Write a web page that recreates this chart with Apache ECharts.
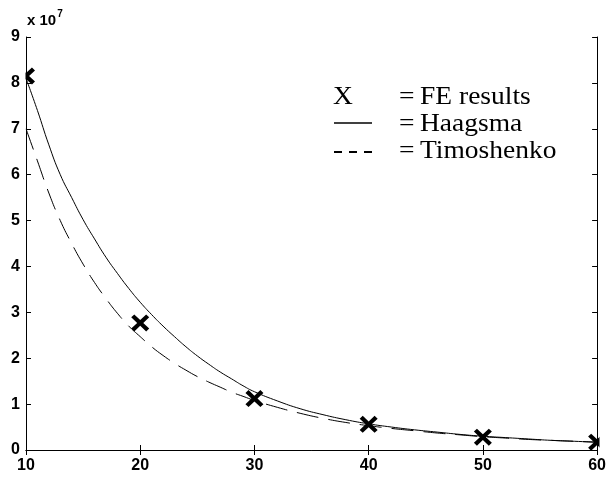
<!DOCTYPE html>
<html>
<head>
<meta charset="utf-8">
<script src="https://cdn.jsdelivr.net/npm/echarts@6/dist/echarts.min.js"></script>
<style>
html,body{margin:0;padding:0;background:#fff;}
#chart{width:609px;height:481px;}
</style>
</head>
<body>
<div id="chart"></div>
<script>
// Values in units of 1e7
const xTicks = [10, 20, 30, 40, 50, 60];
const yTicks = [0, 1, 2, 3, 4, 5, 6, 7, 8, 9];
const feX = [10, 20, 30, 40, 50, 60];
const feY = [8.15, 2.77, 1.12, 0.56, 0.28, 0.17];
const haagsmaX = [10,11,12,13,14,15,16,17,18,19,20,21,22,23,24,25,26,27,28,29,30,32,34,36,38,40,42,44,46,48,50,52,54,56,58,60];
const haagsmaY = [8.1,7.4,6.65,6.0,5.5,5.02,4.6,4.2,3.85,3.52,3.22,2.95,2.7,2.47,2.25,2.05,1.87,1.7,1.55,1.4,1.27,1.07,0.9,0.77,0.66,0.57,0.5,0.44,0.39,0.34,0.3,0.27,0.24,0.21,0.19,0.17];
const timoX = [10,11,12,13,14,15,16,17,18,19,20,21,22,23,24,25,26,27,28,29,30,32,34,36,38,40,42,44,46,48,50,52,54,56,58,60];
const timoY = [7.0,6.3,5.6,5.0,4.5,4.05,3.65,3.3,2.98,2.7,2.47,2.25,2.06,1.89,1.74,1.6,1.48,1.37,1.26,1.17,1.08,0.93,0.8,0.69,0.6,0.53,0.47,0.42,0.37,0.33,0.29,0.26,0.23,0.21,0.19,0.17];
const legendItems = ['FE results', 'Haagsma', 'Timoshenko'];
const expLabel = 'x 10';
const expSup = '7';

const chart = echarts.init(document.getElementById('chart'), null, {renderer: 'canvas'});
const toPairs = (xs, ys) => xs.map((x, i) => [x, ys[i]]);
const xSym = 'path://M0,1.7 L1.7,0 L5,3.3 L8.3,0 L10,1.7 L6.7,5 L10,8.3 L8.3,10 L5,6.7 L1.7,10 L0,8.3 L3.3,5 Z';
const labelFont = {fontFamily: 'Liberation Sans', fontSize: 16, fontWeight: 'bold', color: '#000'};
const legFont = '25px "Liberation Serif"';
const axisCommon = {
  z: 10,
  axisLine: {show: true, lineStyle: {color: '#000', width: 1}},
  axisTick: {show: true, inside: true, length: 5, lineStyle: {color: '#000'}},
  splitLine: {show: false}
};
const legText = (text, x, y) => ({type: 'text', x: x, y: y, z: 20, scaleX: 1.1,
  style: {text: text, font: legFont, fill: '#000', verticalAlign: 'middle'}});

chart.setOption({
  animation: false,
  backgroundColor: '#fff',
  grid: {left: 26, right: 10, top: 37, bottom: 31, containLabel: false},
  xAxis: [
    Object.assign({type: 'value', min: 10, max: 60, interval: 10, position: 'bottom',
      axisLabel: Object.assign({margin: 8, formatter: v => xTicks.includes(v) ? String(v) : ''}, labelFont)}, axisCommon),
    Object.assign({type: 'value', min: 10, max: 60, interval: 10, position: 'top', axisLabel: {show: false}}, axisCommon)
  ],
  yAxis: [
    Object.assign({type: 'value', min: 0, max: 9, interval: 1, position: 'left',
      axisLabel: Object.assign({margin: 6, formatter: v => yTicks.includes(v) ? String(v) : ''}, labelFont)}, axisCommon),
    Object.assign({type: 'value', min: 0, max: 9, interval: 1, position: 'right', axisLabel: {show: false}}, axisCommon)
  ],
  series: [
    {
      name: 'Haagsma', type: 'line', smooth: true, showSymbol: false,
      data: toPairs(haagsmaX, haagsmaY),
      lineStyle: {color: '#000', width: 1}
    },
    {
      name: 'Timoshenko', type: 'line', smooth: true, showSymbol: false,
      data: toPairs(timoX, timoY),
      lineStyle: {color: '#000', width: 1, type: [22, 10]}
    },
    {
      name: 'FE results', type: 'scatter', clip: true,
      data: toPairs(feX, feY),
      symbol: xSym, symbolSize: [18, 17],
      itemStyle: {color: '#000', opacity: 1}, z: 3
    }
  ],
  graphic: [
    // white masks outside plot area (clip markers at the frame)
    {type: 'rect', z: 5, shape: {x: 0, y: 0, width: 25.5, height: 481}, style: {fill: '#fff'}},
    {type: 'rect', z: 5, shape: {x: 599.5, y: 0, width: 10, height: 481}, style: {fill: '#fff'}},
    {type: 'rect', z: 5, shape: {x: 0, y: 450.5, width: 609, height: 31}, style: {fill: '#fff'}},
    {type: 'text', left: 27, top: 9, z: 20, style: {
      text: '{a|' + expLabel + '}{b|' + expSup + '}',
      rich: {a: {fontFamily: 'Liberation Sans', fontSize: 15, fontWeight: 'bold', fill: '#000', verticalAlign: 'bottom'},
             b: {fontFamily: 'Liberation Sans', fontSize: 10, fontWeight: 'bold', fill: '#000', verticalAlign: 'top', padding: [0,0,9,1]}}
    }},
    legText('X', 333, 97),
    legText('=', 399, 97),
    legText(legendItems[0], 420, 97),
    {type: 'line', z: 20, shape: {x1: 334, y1: 123, x2: 372, y2: 123}, style: {stroke: '#000', lineWidth: 1.3}},
    legText('=', 399, 124),
    legText(legendItems[1], 420, 124),
    {type: 'line', z: 20, shape: {x1: 334, y1: 152, x2: 372, y2: 152}, style: {stroke: '#000', lineWidth: 2, lineDash: [8, 7]}},
    legText('=', 399, 151),
    legText(legendItems[2], 420, 151)
  ]
});
</script>
</body>
</html>
